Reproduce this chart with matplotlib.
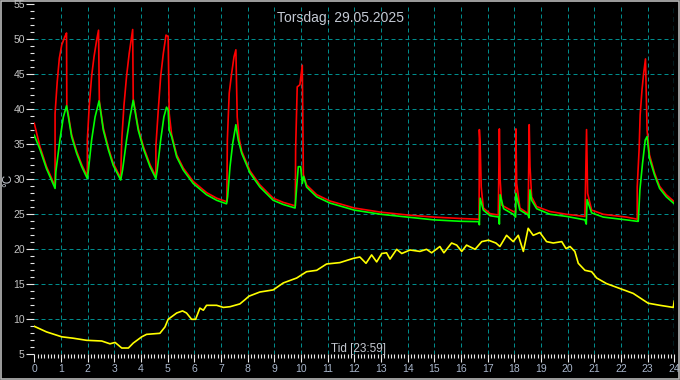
"""Daily temperature log: flow/return and outdoor temperature."""

import matplotlib

matplotlib.use("Agg")
import matplotlib.pyplot as plt
from matplotlib.patches import Rectangle
from matplotlib.ticker import MultipleLocator

# hours of day / temperature in degC
flow_hours = [
    0.00, 0.21, 0.46, 0.78, 0.78, 0.86, 0.94, 1.03, 1.15, 1.21, 1.22, 1.28, 1.40, 1.59, 1.78,
    1.99, 1.99, 2.06, 2.15, 2.24, 2.34, 2.41, 2.44, 2.59, 2.78, 2.96, 3.24, 3.28, 3.36, 3.46,
    3.56, 3.69, 3.71, 3.90, 4.09, 4.34, 4.56, 4.56, 4.65, 4.74, 4.84, 4.94, 5.02, 5.06, 5.15,
    5.34, 5.59, 5.96, 6.46, 6.84, 7.22, 7.24, 7.31, 7.40, 7.49, 7.56, 7.61, 7.68, 7.78, 8.09,
    8.46, 8.96, 9.34, 9.79, 9.80, 9.86, 9.96, 10.05, 10.09, 10.21, 10.59, 11.09, 12.0, 13.0,
    14.0, 15.0, 16.0, 16.68, 16.69, 16.72, 16.76, 16.84, 17.09, 17.40, 17.44, 17.47, 17.53,
    17.96, 18.05, 18.06, 18.09, 18.21, 18.52, 18.56, 18.59, 18.65, 18.84, 19.34, 19.96, 20.65,
    20.71, 20.75, 20.90, 21.34, 22.21, 22.61, 22.61, 22.68, 22.72, 22.79, 22.85, 22.92, 22.98,
    23.07, 23.26, 23.45, 23.70, 24.00,
]
flow_temp = [
    38.0, 34.7, 31.8, 29.0, 39.4, 43.9, 47.3, 49.2, 50.4, 50.9, 40.3, 39.2, 36.4, 34.0, 32.1,
    30.4, 35.6, 40.4, 44.7, 47.5, 49.9, 51.3, 41.2, 37.3, 34.5, 32.3, 30.2, 35.6, 40.4, 44.7,
    48.0, 51.4, 41.5, 37.3, 34.7, 32.1, 30.4, 34.7, 39.9, 44.7, 48.0, 50.6, 50.4, 39.4, 36.4,
    33.5, 31.6, 29.7, 28.1, 27.3, 26.8, 35.6, 42.3, 45.1, 47.5, 48.5, 38.9, 35.9, 34.0, 31.2,
    29.2, 27.3, 26.7, 26.2, 34.2, 43.2, 43.5, 46.3, 30.7, 29.2, 27.8, 26.9, 25.9, 25.3,
    24.9, 24.6, 24.4, 24.3, 37.1, 35.0, 28.9, 25.9, 25.1, 24.9, 37.2, 29.9, 26.3,
    25.4, 25.3, 37.2, 29.4, 25.9, 25.1, 37.8, 31.8, 27.5, 26.1, 25.4, 25.0, 24.7,
    37.1, 28.0, 25.6, 25.0, 24.6, 24.3, 28.9, 34.2, 39.2, 42.8, 45.1, 47.2, 37.0,
    33.5, 30.9, 29.0, 27.8, 26.8,
]

return_hours = [
    0.00, 0.21, 0.46, 0.78, 0.81, 0.96, 1.09, 1.21, 1.28, 1.40, 1.59, 1.78, 1.99, 2.03, 2.15,
    2.28, 2.43, 2.59, 2.78, 2.96, 3.24, 3.31, 3.46, 3.59, 3.71, 3.90, 4.09, 4.34, 4.56, 4.61,
    4.74, 4.86, 4.96, 5.02, 5.06, 5.15, 5.34, 5.59, 5.96, 6.46, 6.84, 7.21, 7.25, 7.34, 7.44,
    7.56, 7.65, 7.78, 8.09, 8.46, 8.96, 9.34, 9.78, 9.84, 9.90, 9.99, 10.05, 10.10, 10.21,
    10.59, 11.09, 12.0, 13.0, 14.0, 15.0, 16.0, 16.68, 16.69, 16.72, 16.84, 17.09, 17.43,
    17.44, 17.47, 17.60, 17.96, 18.05, 18.06, 18.21, 18.52, 18.55, 18.59, 18.65, 18.84, 19.34,
    19.96, 20.65, 20.70, 20.73, 20.90, 21.34, 22.21, 22.61, 22.65, 22.71, 22.81, 22.91, 22.98,
    23.07, 23.26, 23.45, 23.70, 24.00,
]
return_temp = [
    36.3, 34.3, 31.5, 28.7, 31.1, 35.6, 38.9, 40.5, 38.9, 36.1, 33.7, 31.8, 30.1, 31.3, 35.6,
    38.9, 41.2, 37.0, 34.2, 32.0, 29.9, 31.3, 35.6, 38.9, 41.3, 37.0, 34.4, 31.8, 30.1, 31.3,
    35.6, 38.9, 40.3, 39.9, 37.0, 36.1, 33.2, 31.3, 29.4, 27.8, 27.0, 26.5, 27.5, 31.8, 35.1,
    37.8, 35.6, 33.7, 30.9, 28.9, 27.0, 26.4, 25.9, 28.9, 31.8, 31.8, 29.4, 30.4, 28.9,
    27.5, 26.6, 25.6, 25.0, 24.6, 24.2, 24.0, 23.95, 23.5, 27.3, 25.6, 24.8, 24.6,
    23.6, 27.8, 25.8, 25.0, 24.6, 28.0, 25.6, 24.9, 24.5, 28.5, 27.0, 25.8, 25.0,
    24.7, 24.2, 23.6, 27.1, 25.2, 24.6, 24.2, 24.0, 24.0, 28.5, 32.3, 35.6, 36.1,
    33.0, 30.6, 28.7, 27.5, 26.5,
]

outdoor_hours = [
    0.00, 0.46, 1.03, 1.46, 1.96, 2.53, 2.84, 3.03, 3.28, 3.53, 3.71, 4.03, 4.21, 4.71, 4.90,
    5.02, 5.34, 5.56, 5.71, 5.90, 6.05, 6.21, 6.34, 6.46, 6.84, 7.09, 7.34, 7.71, 7.90, 8.05,
    8.46, 8.96, 9.34, 9.84, 10.21, 10.59, 10.96, 11.46, 11.96, 12.21, 12.44, 12.65, 12.84,
    13.03, 13.21, 13.34, 13.59, 13.78, 14.09, 14.46, 14.71, 14.90, 15.21, 15.36, 15.65, 15.84,
    16.03, 16.21, 16.53, 16.78, 17.03, 17.31, 17.46, 17.71, 17.96, 18.15, 18.34, 18.52, 18.71,
    18.96, 19.21, 19.46, 19.78, 19.94, 20.09, 20.27, 20.40, 20.65, 20.90, 21.09, 21.46, 21.96,
    22.46, 23.02, 23.46, 23.96, 24.00,
]
outdoor_temp = [
    9.0, 8.2, 7.5, 7.3, 7.0, 6.9, 6.5, 6.7, 5.9, 5.9, 6.6, 7.5, 7.85, 8.0, 8.9,
    10.0, 10.9, 11.2, 10.9, 10.0, 10.0, 11.6, 11.3, 12.0, 12.0, 11.7, 11.8, 12.2, 12.8, 13.3,
    13.9, 14.2, 15.2, 15.9, 16.8, 17.0, 17.9, 18.1, 18.7, 18.9, 18.0, 19.2, 18.2,
    19.4, 19.5, 18.6, 20.0, 19.4, 19.9, 19.7, 20.0, 19.5, 20.4, 19.5, 20.9, 20.6,
    19.7, 20.6, 20.0, 21.1, 21.3, 20.9, 20.4, 22.0, 21.1, 22.0, 19.7, 23.0, 22.0,
    22.4, 21.1, 20.9, 21.1, 20.1, 20.4, 19.7, 18.0, 17.0, 16.8, 15.9, 15.1, 14.4,
    13.7, 12.3, 12.0, 11.7, 12.6,
]

y_grid = [10, 15, 20, 25, 30, 35, 40, 45, 50]
x_grid = list(range(1, 24))

TEAL = "#008c8c"
FONT = "Liberation Sans"


def main():
    fig = plt.figure(figsize=(6.8, 3.8), dpi=100, facecolor="black")
    ax = fig.add_axes([0.0504, 0.0676, 0.9412, 0.9211], facecolor="black")

    for y in y_grid:
        ax.axhline(y, color=TEAL, linewidth=0.72, linestyle=(0, (4, 3)), zorder=1)
    for x in x_grid:
        ax.axvline(x, color=TEAL, linewidth=0.72, linestyle=(0, (4, 3)), zorder=1)
    ax.axvline(24, color="#10e0ff", linewidth=0.9, linestyle=(0, (4, 3)), zorder=1)

    ax.plot(outdoor_hours, outdoor_temp, color="#ffff00", linewidth=1.2, zorder=3)
    ax.plot(flow_hours, flow_temp, color="#ff0000", linewidth=1.2, zorder=3)
    ax.plot(return_hours, return_temp, color="#00ff00", linewidth=1.2, zorder=4)

    ax.set_xlim(0, 24)
    ax.set_ylim(5, 55)
    ax.xaxis.set_major_locator(MultipleLocator(1))
    ax.xaxis.set_minor_locator(MultipleLocator(0.125))
    ax.yaxis.set_major_locator(MultipleLocator(5))
    ax.yaxis.set_minor_locator(MultipleLocator(1))
    for side in ax.spines.values():
        side.set_visible(False)

    ax.tick_params(axis="both", which="major", length=5.8, width=0.8, color="#e8e8e8")
    ax.tick_params(axis="both", which="minor", length=2.6, width=0.8, color="#e8e8e8")
    ax.tick_params(axis="y", which="major", pad=1, labelcolor="#c4c4c4", labelsize=7.5)
    ax.tick_params(axis="x", which="major", pad=1.5, labelcolor="#a8b6cc", labelsize=7.5)
    for label in ax.get_xticklabels() + ax.get_yticklabels():
        label.set_family(FONT)

    fig.text(0.5007, 0.9526, "Torsdag, 29.05.2025", color="#c4cad4", fontsize=10,
             family=FONT, ha="center", va="center")
    fig.text(0.5276, 0.0816, "Tid [23:59]", color="#c4c8d0", fontsize=8.5,
             family=FONT, ha="center", va="center")
    fig.text(0.0118, 0.526, "°C", color="#c4c8d0", fontsize=8.5, family=FONT,
             rotation=90, ha="center", va="center")

    fig.patches.append(Rectangle((0.0015, 0.003), 0.997, 0.994, transform=fig.transFigure,
                                 fill=False, edgecolor="#b8b8b8", linewidth=1.2))

    fig.savefig("out.png", dpi=100, facecolor="black")
    plt.close(fig)


if __name__ == "__main__":
    main()
